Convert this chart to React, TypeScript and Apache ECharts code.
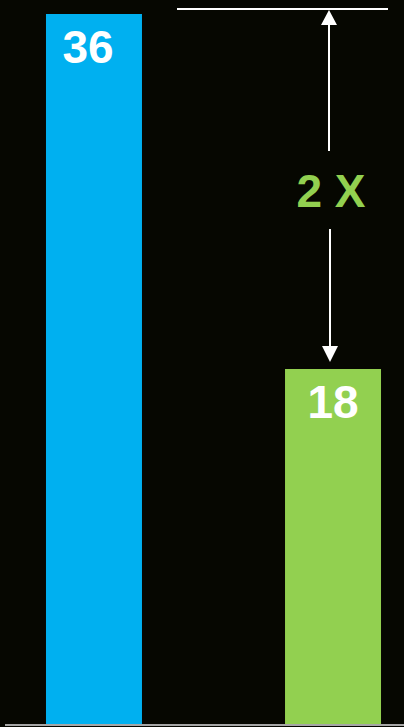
import React, { useEffect, useRef } from "react";
import * as echarts from "echarts";

const categories = [""];
const seriesNames = ["Before", "After"];
const values = [36, 18];
const colors = ["#00B0F0", "#92D050"];
const ratioLabel = "2 X";

export default function App() {
  const ref = useRef<HTMLDivElement>(null);
  useEffect(() => {
    if (!ref.current) return;
    const chart = echarts.init(ref.current, null, { renderer: "svg" });
    const font = "'Liberation Sans', Arial, sans-serif";
    chart.setOption({
      animation: false,
      backgroundColor: "#060701",
      grid: { left: 23, right: 0, top: 14, bottom: 3, containLabel: false },
      xAxis: {
        type: "category",
        data: categories,
        axisLine: { show: false },
        axisTick: { show: false },
        axisLabel: { show: false },
      },
      yAxis: {
        type: "value",
        min: 0,
        max: 36,
        show: false,
        splitLine: { show: false },
      },
      series: values.map((v, i) => ({
        type: "bar",
        name: seriesNames[i],
        data: [v],
        barWidth: 96,
        barGap: "149%",
        itemStyle: { color: colors[i] },
        label: {
          show: true,
          position: "insideTop",
          distance: 10,
          offset: i === 0 ? [-6, 0] : [0, 0],
          color: "#ffffff",
          fontFamily: font,
          fontWeight: "bold",
          fontSize: 46,
        },
      })),
    });

    const topY = chart.convertToPixel({ yAxisIndex: 0 }, values[0]) - 5;
    const lowY = chart.convertToPixel({ yAxisIndex: 0 }, values[1]);
    const baseY = chart.convertToPixel({ yAxisIndex: 0 }, 0);
    const ax = 329;
    chart.setOption({
      graphic: [
        { type: "line", shape: { x1: 5, y1: baseY + 1, x2: 404, y2: baseY + 1 }, style: { stroke: "#a6a6a6", lineWidth: 2 } },
        { type: "line", shape: { x1: 177, y1: topY, x2: 388, y2: topY }, style: { stroke: "#ffffff", lineWidth: 2 } },
        { type: "line", shape: { x1: ax, y1: topY + 14, x2: ax, y2: 151 }, style: { stroke: "#ffffff", lineWidth: 2 } },
        { type: "polygon", shape: { points: [[ax, topY + 1], [ax - 8, topY + 16], [ax + 8, topY + 16]] }, style: { fill: "#ffffff" } },
        { type: "line", shape: { x1: ax + 1, y1: 229, x2: ax + 1, y2: lowY - 20 }, style: { stroke: "#ffffff", lineWidth: 2 } },
        { type: "polygon", shape: { points: [[ax - 7, lowY - 23], [ax + 9, lowY - 23], [ax + 1, lowY - 7]] }, style: { fill: "#ffffff" } },
        {
          type: "text",
          x: 331,
          y: 191,
          style: {
            text: ratioLabel,
            fill: "#92D050",
            font: `bold 46px ${font}`,
            align: "center",
            verticalAlign: "middle",
          },
        },
      ],
    });
    return () => chart.dispose();
  }, []);
  return (
    <div
      ref={ref}
      style={{ position: "fixed", left: 0, top: 0, width: 404, height: 727 }}
    />
  );
}
